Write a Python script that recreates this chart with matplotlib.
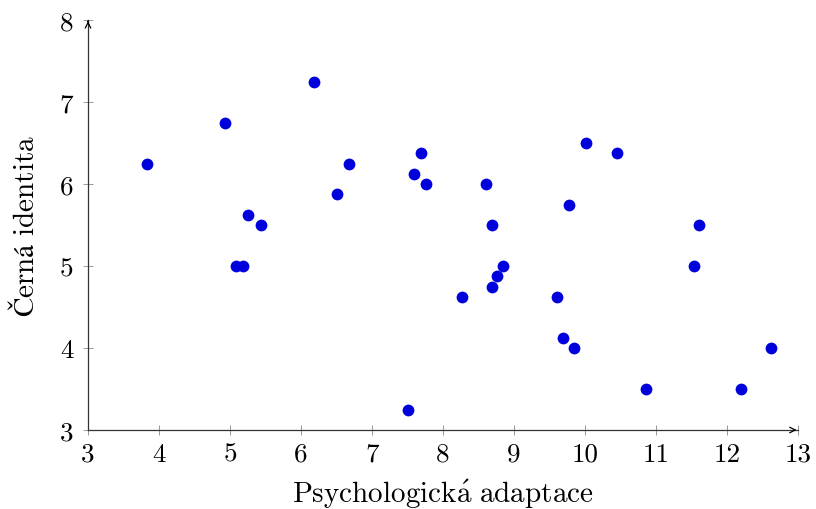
import matplotlib
matplotlib.use("Agg")
import matplotlib.pyplot as plt

psych_adaptace = [3.83, 4.93, 6.18, 5.26, 5.43, 5.08, 5.19, 6.51, 6.68, 7.69,
                  7.59, 7.76, 7.51, 8.27, 8.60, 8.69, 8.76, 8.85, 8.69, 9.60,
                  9.69, 9.85, 9.77, 10.02, 10.45, 10.86, 11.53, 11.61, 12.20, 12.62]
cerna_identita = [6.25, 6.75, 7.25, 5.625, 5.5, 5.0, 5.0, 5.875, 6.25, 6.375,
                  6.125, 6.0, 3.25, 4.625, 6.0, 5.5, 4.875, 5.0, 4.75, 4.625,
                  4.125, 4.0, 5.75, 6.5, 6.375, 3.5, 5.0, 5.5, 3.5, 4.0]
x_ticks = [3, 4, 5, 6, 7, 8, 9, 10, 11, 12, 13]
y_ticks = [3, 4, 5, 6, 7, 8]

plt.rcParams['mathtext.fontset'] = 'cm'
plt.rcParams['font.family'] = ['cmr10', 'DejaVu Serif']
plt.rcParams['axes.formatter.use_mathtext'] = True

fig = plt.figure(figsize=(8.16, 5.10), dpi=100)
ax = fig.add_axes([88/816, 79/510, 710/816, 410/510])

ax.scatter(psych_adaptace, cerna_identita, s=72, color='#0000dd', zorder=3, linewidths=0)

ax.set_xlim(3, 13)
ax.set_ylim(3, 8)
ax.set_xticks(x_ticks)
ax.set_yticks(y_ticks)
ax.set_xticklabels([str(t) for t in x_ticks])
ax.set_yticklabels([str(t) for t in y_ticks])
ax.tick_params(direction='inout', length=7, width=0.6, color='#888888', labelsize=19.5)
ax.tick_params(axis='x', pad=5)
ax.tick_params(axis='y', pad=7)

for s in ['top', 'right']:
    ax.spines[s].set_visible(False)
for s in ['left', 'bottom']:
    ax.spines[s].set_linewidth(0.9)
    ax.spines[s].set_color('#333333')

ax.annotate('', xy=(1.002, 0), xytext=(0.99, 0), xycoords='axes fraction',
            arrowprops=dict(arrowstyle='->', lw=0.9, color='black'), annotation_clip=False)
ax.annotate('', xy=(0, 1.004), xytext=(0, 0.99), xycoords='axes fraction',
            arrowprops=dict(arrowstyle='->', lw=0.9, color='black'), annotation_clip=False)

ax.set_xlabel(r'$\mathrm{Psychologick\acute{a}\ adaptace}$', fontsize=21, labelpad=8)
ax.set_ylabel(r'$\mathrm{Černá\ identita}$', fontsize=21, labelpad=14)

fig.savefig('out.png', dpi=100)
